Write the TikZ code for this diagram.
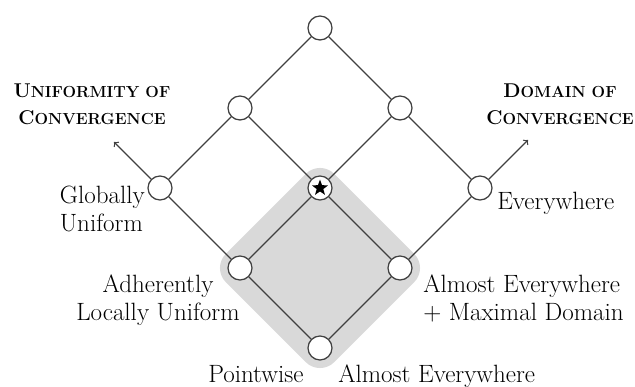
\documentclass[tikz,border=0pt]{standalone}
\usepackage{fontspec}
\usetikzlibrary{shapes.geometric}
\newcommand{\smallcap}[1]{{\fontsize{11.4}{19.2}\selectfont #1}}
\tikzset{
  dot/.style={circle, draw=black!75, fill=white, line width=0.9pt, minimum size=0.6cm, inner sep=0pt},
  txt/.style={inner sep=0pt, font=\fontsize{17.8}{20}\selectfont},
  hdr/.style={inner sep=0pt, align=center, font=\fontsize{14.2}{19.2}\selectfont\bfseries},
}
\begin{document}
\begin{tikzpicture}[every edge/.style={draw=black!75, line width=0.9pt}]
	\useasboundingbox (-8,-4.975) rectangle (7.875,4.7);
	\node (Bg) at (0,-2) [rotate=45, fill=black!15, rounded corners=0.5cm, minimum size=3.83cm] {};
	% lattice
	\node (Pw) at (0,-4)  [dot] {};
	\node (Al) at (-2,-2) [dot] {} edge (Pw);
	\node (Ae) at (2,-2)  [dot] {} edge (Pw);
	\node (Gu) at (-4,0)  [dot] {} edge (Al);
	\node (St) at (0,0)   [dot] {} edge (Al) edge (Ae);
	\node (Ev) at (4,0)   [dot] {} edge (Ae);
	\node (Ul) at (-2,2)  [dot] {} edge (Gu) edge (St);
	\node (Ur) at (2,2)   [dot] {} edge (St) edge (Ev);
	\node (To) at (0,4)   [dot] {} edge (Ul) edge (Ur);
	\node (Sr) at (St) [star, star points=5, star point ratio=2.4, fill=black, inner sep=0pt, minimum size=0.42cm] {};
	\coordinate (Lt) at (-5.15,1.15);
	\coordinate (Rt) at (5.2,1.2);
	\draw[->, draw=black!75, line width=0.9pt] (Gu) -- (Lt);
	\draw[->, draw=black!75, line width=0.9pt] (Ev) -- (Rt);
	% labels
	\node (GuT) at (-4.375,0.06) [txt, anchor=north east, align=left] {Globally\\Uniform};
	\node (AlT) at (-4.05,-2.165) [txt, anchor=north, align=center] {Adherently\\Locally Uniform};
	\node (AeT) at (2.575,-2.165) [txt, anchor=north west, align=left] {Almost Everywhere\\+ Maximal Domain};
	\node (EvT) at (4.425,-0.55) [txt, anchor=base west] {Everywhere};
	\node (PwT) at (-2.8,-4.875) [txt, anchor=base west] {Pointwise};
	\node (AxT) at (0.45,-4.875) [txt, anchor=base west] {Almost Everywhere};
	\node (UcT) at (-5.7,2.6) [hdr, anchor=north] {U\smallcap{NIFORMITY OF}\\C\smallcap{ONVERGENCE}};
	\node (DcT) at (6.0,2.6) [hdr, anchor=north] {D\smallcap{OMAIN OF}\\C\smallcap{ONVERGENCE}};
\end{tikzpicture}
\end{document}
